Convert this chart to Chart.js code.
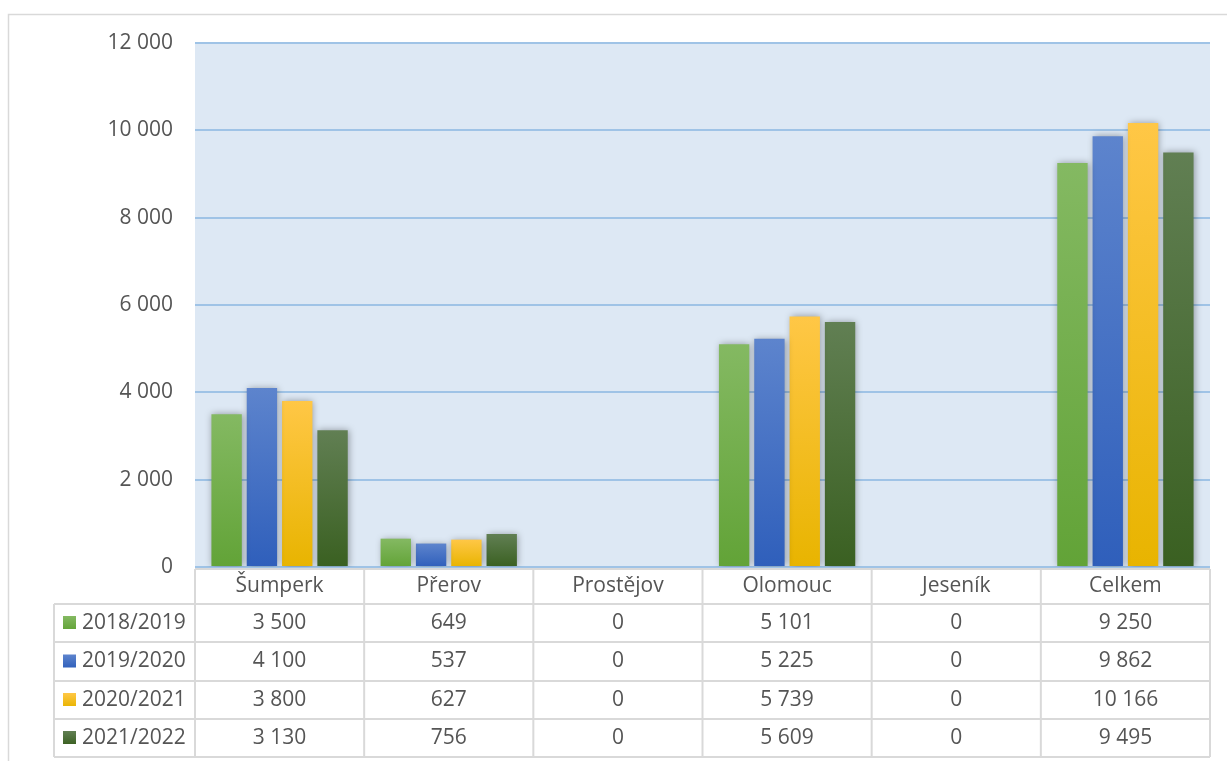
<!DOCTYPE html>
<html>
<head>
<meta charset="utf-8">
<script src="https://cdn.jsdelivr.net/npm/chart.js@4"></script>
<style>
  html, body { margin: 0; padding: 0; background: #fff; }
  #wrap { position: relative; width: 1227px; height: 761px; }
</style>
</head>
<body>
<div id="wrap"><canvas id="graf" width="1227" height="761"></canvas></div>
<script>
// data z obrazku
const kategorie = ["Šumperk", "Přerov", "Prostějov", "Olomouc", "Jeseník", "Celkem"];
const roky = ["2018/2019", "2019/2020", "2020/2021", "2021/2022"];
const hodnoty2018 = [3500, 649, 0, 5101, 0, 9250];
const hodnoty2019 = [4100, 537, 0, 5225, 0, 9862];
const hodnoty2020 = [3800, 627, 0, 5739, 0, 10166];
const hodnoty2021 = [3130, 756, 0, 5609, 0, 9495];
const yTicks = [0, 2000, 4000, 6000, 8000, 10000, 12000];

// barvy (horni, dolni)
const barvy = [
    ["#84b962", "#62a337"],
    ["#5d84cd", "#2f5fbb"],
    ["#ffc746", "#e8b400"],
    ["#617f53", "#3a6021"]
];

const FONT = "'Open Sans', sans-serif";
const TEXT = "#555555";
const CARA = "#d9d9d9";

function formatCislo(v) {
    return String(v).replace(/\B(?=(\d{3})+(?!\d))/g, " ");
}

function gradientSloupce(ctx, i) {
    const chart = ctx.chart;
    if (!chart.chartArea || ctx.type !== "data") return barvy[i][0];
    const y = chart.scales.y;
    const top = y.getPixelForValue(ctx.raw);
    const bottom = y.getPixelForValue(0);
    if (bottom - top < 1) return barvy[i][1];
    const g = chart.ctx.createLinearGradient(0, top, 0, bottom);
    g.addColorStop(0, barvy[i][0]);
    g.addColorStop(1, barvy[i][1]);
    return g;
}

// pozadi grafu, ramecek a tabulka s daty
const tabulkaPlugin = {
    id: "tabulka",
    beforeDraw(chart) {
        const c = chart.ctx;
        const a = chart.chartArea;
        c.save();
        c.fillStyle = "#dde8f4";
        c.fillRect(a.left, a.top, a.right - a.left, a.bottom - a.top);
        // vnejsi ramecek
        c.strokeStyle = "#d9d9d9";
        c.lineWidth = 1.5;
        c.beginPath();
        c.moveTo(8.5, 761);
        c.lineTo(8.5, 14.5);
        c.lineTo(1227, 14.5);
        c.stroke();
        c.restore();
    },
    beforeDatasetsDraw(chart) {
        const c = chart.ctx;
        c.save();
        c.shadowColor = "rgba(0,0,0,0.35)";
        c.shadowBlur = 7;
        c.shadowOffsetX = 1;
        c.shadowOffsetY = 0;
    },
    afterDatasetsDraw(chart) {
        chart.ctx.restore();
    },
    afterDraw(chart) {
        const c = chart.ctx;
        const a = chart.chartArea;
        const x = chart.scales.x;
        const colW = (a.right - a.left) / kategorie.length;
        const radky = [569, 604, 642, 681, 719, 757];
        const levo = 54;
        const serie = [hodnoty2018, hodnoty2019, hodnoty2020, hodnoty2021];

        c.save();
        c.strokeStyle = CARA;
        c.lineWidth = 2;
        c.beginPath();
        // horizontalni cary
        c.moveTo(a.left, radky[0]);
        c.lineTo(a.right, radky[0]);
        for (let r = 1; r < radky.length; r++) {
            c.moveTo(levo, radky[r]);
            c.lineTo(a.right, radky[r]);
        }
        // vertikalni cary
        c.moveTo(levo, radky[1]);
        c.lineTo(levo, radky[5]);
        for (let k = 0; k <= kategorie.length; k++) {
            const px = a.left + k * colW;
            c.moveTo(px, radky[0]);
            c.lineTo(px, radky[5]);
        }
        c.stroke();

        c.fillStyle = TEXT;
        c.font = "21px " + FONT;
        c.textBaseline = "middle";
        c.textAlign = "center";
        kategorie.forEach((k, i) => {
            c.fillText(k, x.getPixelForValue(i), (radky[0] + radky[1]) / 2);
        });
        serie.forEach((s, r) => {
            const cy = (radky[r + 1] + radky[r + 2]) / 2;
            s.forEach((v, i) => {
                c.fillText(formatCislo(v), x.getPixelForValue(i), cy);
            });
            // legenda
            const g = c.createLinearGradient(0, cy - 7, 0, cy + 7);
            g.addColorStop(0, barvy[r][0]);
            g.addColorStop(1, barvy[r][1]);
            c.fillStyle = g;
            c.fillRect(63, cy - 7, 13, 13);
            c.fillStyle = TEXT;
            c.textAlign = "left";
            c.fillText(roky[r], 82, cy);
            c.textAlign = "center";
        });
        c.restore();
    }
};

const serieData = [hodnoty2018, hodnoty2019, hodnoty2020, hodnoty2021];

new Chart(document.getElementById("graf"), {
    type: "bar",
    data: {
        labels: kategorie,
        datasets: roky.map((r, i) => ({
            label: r,
            data: serieData[i],
            backgroundColor: (ctx) => gradientSloupce(ctx, i),
            borderWidth: 0,
            categoryPercentage: 0.835,
            barPercentage: 0.86
        }))
    },
    options: {
        responsive: false,
        animation: false,
        layout: { padding: { top: 43, right: 17, bottom: 194, left: 0 } },
        plugins: {
            legend: { display: false },
            tooltip: { enabled: false }
        },
        scales: {
            x: { display: false },
            y: {
                min: 0,
                max: 12000,
                afterFit(scale) { scale.width = 195; },
                afterBuildTicks(scale) { scale.ticks = yTicks.map(v => ({ value: v })); },
                border: { display: false },
                grid: { color: "#9fc3e6", lineWidth: 2, drawTicks: false },
                ticks: {
                    padding: 22,
                    color: TEXT,
                    font: { family: FONT, size: 21 },
                    callback: (v) => formatCislo(v)
                }
            }
        }
    },
    plugins: [tabulkaPlugin]
});
</script>
</body>
</html>
